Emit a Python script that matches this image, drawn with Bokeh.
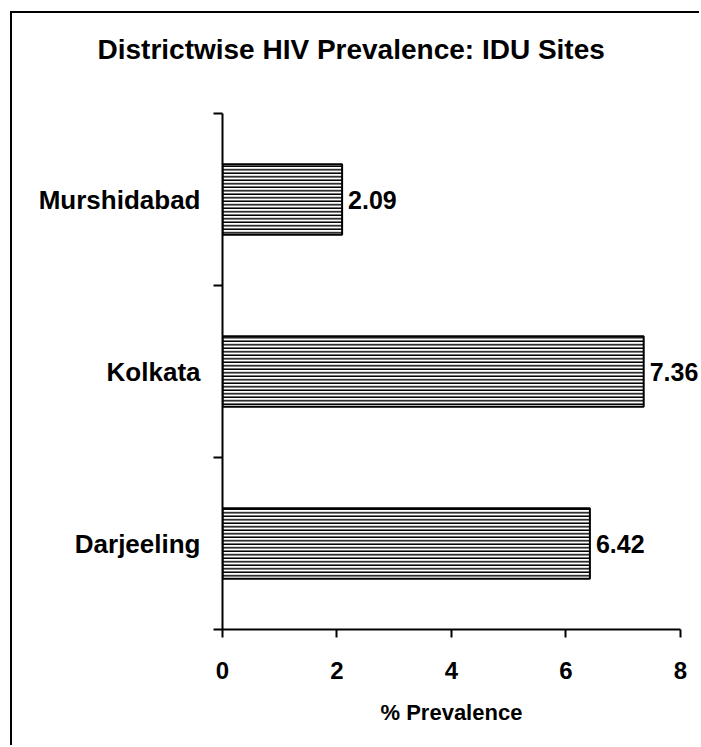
from bokeh.plotting import figure
from bokeh.models import (ColumnDataSource, LabelSet, LinearAxis,
                          Range1d, FixedTicker, Title)
from bokeh.core.properties import value
from bokeh.embed import file_html
from bokeh.resources import INLINE

# ---- data ----
districts = ["Darjeeling", "Kolkata", "Murshidabad"]   # bottom -> top
prevalence = [6.42, 7.36, 2.09]
x_ticks = [0, 2, 4, 6, 8]
title_text = "Districtwise HIV  Prevalence: IDU Sites"
x_label = "% Prevalence"

FONT = "Liberation Sans"

n = len(districts)
centers = [i + 0.5 for i in range(n)]      # category band centres
bounds_ticks = list(range(n + 1))          # category band boundaries

src = ColumnDataSource(dict(
    y=centers,
    district=districts,
    value=prevalence,
    label=["%.2f" % v for v in prevalence],
))

p = figure(
    width=689, height=734,
    y_range=Range1d(0, n),
    x_range=Range1d(0, 8.37),
    output_backend="svg",
    toolbar_location=None,
    x_axis_location=None,
    y_axis_location=None,
    min_border_left=210, min_border_right=0,
    min_border_top=100, min_border_bottom=118,
)
p.styles = {"border-left": "2px solid black", "border-top": "2px solid black",
            "margin-left": "10px", "margin-top": "11px"}
p.outline_line_color = None
p.xgrid.visible = False
p.ygrid.visible = False
p.background_fill_color = "white"
p.border_fill_color = "white"

# spacer between frame and title, then the title itself
spacer = Title(text=" ", text_font_size="1px", standoff=46)
p.add_layout(spacer, "above")
t = Title(text=title_text, align="left", offset=-125, standoff=0,
          text_font=FONT, text_font_style="bold", text_font_size="28px",
          text_color="black")
p.add_layout(t, "above")

# bars
p.hbar(y="y", right="value", left=0, height=0.41, source=src,
       fill_color="white", line_color="black", line_width=2,
       hatch_pattern="horizontal_line", hatch_color="black",
       hatch_scale=3.5, hatch_weight=1.5)

# value labels
labels = LabelSet(x="value", y="y", text="label", source=src,
                  x_offset=6, text_baseline="middle", text_align="left",
                  text_font=value(FONT), text_font_style="bold",
                  text_font_size="25px", text_color="black")
p.add_layout(labels)

# x axis
xa = LinearAxis(ticker=FixedTicker(ticks=x_ticks), bounds=(0, 8))
xa.axis_line_width = 2
xa.axis_line_color = "black"
xa.major_tick_line_width = 2
xa.major_tick_line_color = "black"
xa.major_tick_in = 0
xa.major_tick_out = 8
xa.minor_tick_line_color = None
xa.major_label_standoff = 24
xa.major_label_text_font = FONT
xa.major_label_text_font_style = "bold"
xa.major_label_text_font_size = "24px"
xa.major_label_text_color = "black"
p.add_layout(xa, "below")

# x axis label, centred under the 0..8 axis line
xl = Title(text=x_label, align="left", offset=158, standoff=32,
           text_font=FONT, text_font_style="bold", text_font_size="22px",
           text_color="black")
p.add_layout(xl, "below")

# y axis: boundary ticks between categories (nearest the frame)
ya_b = LinearAxis(ticker=FixedTicker(ticks=bounds_ticks))
ya_b.axis_line_width = 2
ya_b.axis_line_color = "black"
ya_b.major_tick_line_width = 2
ya_b.major_tick_line_color = "black"
ya_b.major_tick_in = 0
ya_b.major_tick_out = 9
ya_b.minor_tick_line_color = None
ya_b.major_label_text_font_size = "0px"
ya_b.major_label_standoff = 0
ya_b.major_label_overrides = {b: "" for b in bounds_ticks}
p.add_layout(ya_b, "left")

# y axis: category names at band centres
ya_c = LinearAxis(ticker=FixedTicker(ticks=centers))
ya_c.major_label_overrides = {c: d for c, d in zip(centers, districts)}
ya_c.axis_line_color = None
ya_c.major_tick_line_color = None
ya_c.minor_tick_line_color = None
ya_c.major_label_standoff = 7
ya_c.major_label_text_font = FONT
ya_c.major_label_text_font_style = "bold"
ya_c.major_label_text_font_size = "26px"
ya_c.major_label_text_color = "black"
p.add_layout(ya_c, "left")

open("out.html", "w").write(file_html(p, INLINE))
